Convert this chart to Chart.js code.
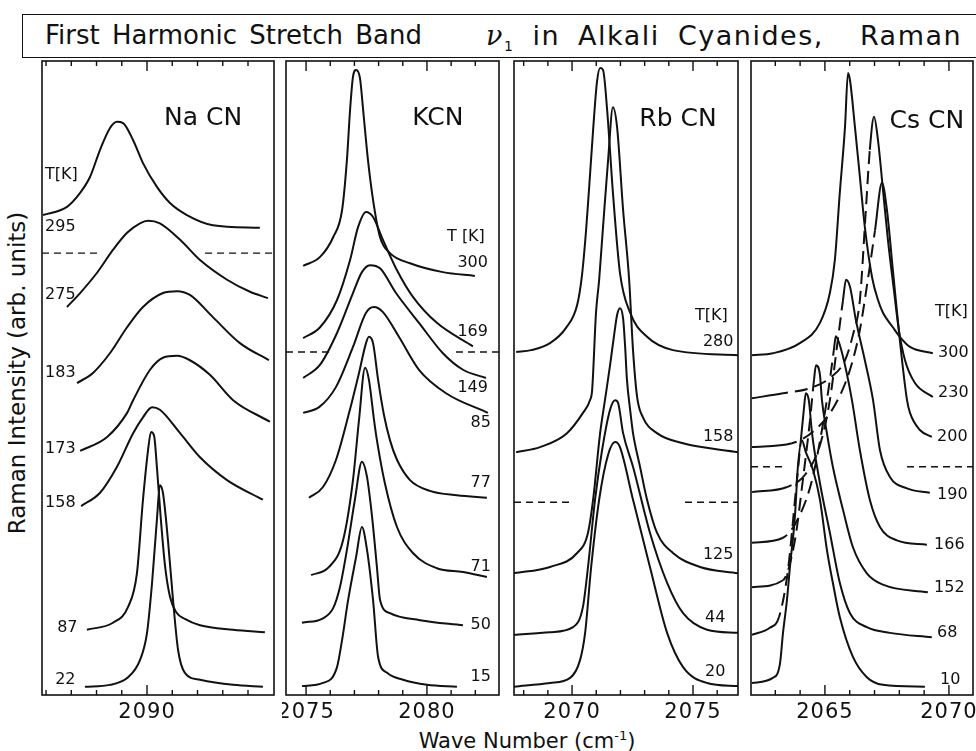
<!DOCTYPE html>
<html lang="en">
<head>
<meta charset="UTF-8">
<title>First Harmonic Stretch Band in Alkali Cyanides, Raman</title>
<script src="https://cdn.jsdelivr.net/npm/chart.js"></script>
<style>
  body { margin: 0; background: #fff; width: 976px; height: 751px; overflow: hidden; position: relative;
         font-family: "DejaVu Sans", sans-serif; color: #111; }
  .title { position: absolute; left: 22px; top: 14px; width: 970px; height: 44px; border: 1.5px solid #111;
           border-right: none; box-sizing: border-box; }
  .title span { position: absolute; top: 0; line-height: 41px; font-size: 26px; white-space: nowrap; }
  .title i { font-family: "DejaVu Serif", serif; }
  .title sub { font-size: 14px; font-style: normal; }
  .ylab { position: absolute; left: 17px; top: 373px; transform: translate(-50%, -50%) rotate(-90deg);
          font-size: 23px; white-space: nowrap; }
  .xlab { position: absolute; left: 527px; top: 740px; transform: translate(-50%, -50%);
          font-size: 21px; white-space: nowrap; }
  .xlab sup { font-size: 13px; }
  canvas { position: absolute; }
</style>
</head>
<body>
<div class="title">
  <span style="left: 22px; word-spacing: 4px;">First Harmonic Stretch Band</span>
  <span style="left: 463px; font-size: 27px; letter-spacing: 1.5px; word-spacing: 8px;"><i>ν</i><sub>1</sub> in Alkali Cyanides,&nbsp; Raman</span>
</div>
<div class="ylab">Raman Intensity (arb. units)</div>
<div class="xlab">Wave Number (cm<sup>-1</sup>)</div>
<canvas id="na"></canvas>
<canvas id="k"></canvas>
<canvas id="rb"></canvas>
<canvas id="cs"></canvas>

<script>
// ---- data: [wave number (cm-1), Raman intensity (arb. units)] ----

// NaCN
const na295 = [[2085.88,75.7],[2086.83,77.0],[2087.35,79.2],[2087.74,81.7],[2088.14,86.0],[2088.53,89.4],[2088.81,90.4],[2089.05,90.2],[2089.45,87.5],[2089.84,83.9],[2090.40,80.1],[2090.91,77.6],[2091.58,75.7],[2092.61,74.1],[2094.47,73.7]];
const na275 = [[2086.83,61.2],[2087.35,63.4],[2088.02,66.6],[2088.65,70.2],[2089.21,72.9],[2089.72,74.4],[2090.04,74.8],[2090.51,74.4],[2091.31,71.8],[2092.10,68.6],[2093.17,65.5],[2094.08,63.6],[2094.79,62.6]];
const na183 = [[2087.23,49.2],[2087.86,50.8],[2088.53,53.9],[2089.21,58.0],[2089.84,61.2],[2090.63,63.4],[2091.19,63.7],[2091.70,63.1],[2092.61,59.6],[2093.68,55.5],[2094.83,52.8]];
const na173 = [[2087.35,38.5],[2088.42,40.7],[2089.21,44.5],[2089.45,46.5],[2090.12,51.3],[2090.63,53.2],[2091.19,53.5],[2091.70,52.8],[2092.49,50.5],[2093.41,46.5],[2094.87,43.1]];
const na158 = [[2087.39,29.8],[2088.14,31.9],[2088.81,36.0],[2089.45,41.3],[2089.84,43.8],[2090.20,45.4],[2090.51,45.0],[2091.31,41.3],[2092.10,37.5],[2093.17,33.9],[2094.59,30.8]];
const na87 = [[2087.62,10.3],[2088.65,11.4],[2089.25,13.9],[2089.60,19.2],[2089.84,30.8],[2090.04,38.6],[2090.16,41.5],[2090.28,40.9],[2090.40,35.5],[2090.55,27.6],[2090.71,20.5],[2090.91,15.5],[2091.15,13.1],[2091.50,12.0],[2092.10,11.0],[2093.41,10.3],[2094.67,9.9]];
const na22 = [[2087.54,1.3],[2088.53,1.6],[2089.25,2.8],[2089.72,5.5],[2090.00,9.8],[2090.20,17.7],[2090.40,28.1],[2090.51,33.1],[2090.63,31.9],[2090.83,24.4],[2091.03,15.0],[2091.23,7.1],[2091.50,3.5],[2092.10,2.4],[2093.41,1.6],[2094.59,1.3]];
const naDash = [[2085.84,69.7],[2088.14,69.7],[2090,null],[2092.30,69.7],[2095.03,69.7]];
const naTicks = [2086,2087,2088,2089,2090,2091,2092,2093,2094];
const naMajor = [2090];
const naNotes = ['T[K]','295','275','183','173','158','87','22'];
const naNoteAt = [[2085.96,82.0],[2085.96,73.8],[2085.96,63.1],[2085.96,50.8],[2085.96,38.8],[2085.96,30.3],[2086.44,10.6],[2086.36,2.4]];

// KCN
const k300 = [[2074.88,67.7],[2075.58,69.1],[2076.12,72.2],[2076.49,76.5],[2076.69,84.4],[2076.82,92.3],[2076.94,97.5],[2077.07,98.6],[2077.23,97.3],[2077.36,92.3],[2077.56,84.4],[2077.77,78.1],[2078.06,72.2],[2078.47,69.7],[2079.30,68.1],[2080.66,66.7],[2081.98,66.1]];
const k169 = [[2074.88,56.3],[2075.58,58.0],[2076.28,62.3],[2076.82,68.6],[2077.15,73.8],[2077.48,76.2],[2077.77,75.4],[2078.18,71.8],[2078.76,67.0],[2079.42,62.8],[2080.41,58.7],[2081.90,55.0]];
const k149 = [[2074.88,50.0],[2075.58,52.1],[2076.28,57.1],[2076.94,63.4],[2077.31,66.7],[2077.64,67.8],[2078.06,67.3],[2078.72,63.4],[2079.67,58.7],[2080.66,53.9],[2081.49,51.3],[2082.44,50.0]];
const k85 = [[2074.88,44.5],[2075.54,45.4],[2076.24,48.6],[2076.94,54.9],[2077.48,60.3],[2077.81,61.2],[2078.18,60.4],[2078.84,56.5],[2079.67,51.3],[2080.79,47.6],[2082.52,44.5]];
const k77 = [[2075.12,31.1],[2075.70,32.8],[2076.24,37.1],[2076.78,44.5],[2077.19,50.8],[2077.48,55.5],[2077.60,56.5],[2077.77,55.5],[2077.98,49.7],[2078.22,44.2],[2078.47,40.2],[2078.76,37.1],[2079.30,33.9],[2080.12,32.2],[2081.24,31.5],[2082.48,31.1]];
const k71 = [[2075.21,18.9],[2075.95,20.2],[2076.53,24.4],[2076.94,33.9],[2077.19,43.4],[2077.44,51.6],[2077.60,49.7],[2077.81,43.4],[2077.93,40.2],[2078.26,33.4],[2078.76,26.5],[2079.42,22.4],[2080.41,20.0],[2081.49,19.4],[2082.48,18.6]];
const k50 = [[2074.83,11.4],[2075.70,12.1],[2076.12,13.7],[2076.40,17.0],[2076.69,22.9],[2077.02,30.8],[2077.31,36.8],[2077.52,34.4],[2077.73,28.1],[2077.93,20.2],[2078.06,15.0],[2078.47,12.9],[2079.71,11.8],[2081.49,11.0]];
const k15 = [[2074.83,1.4],[2075.70,1.9],[2076.28,4.4],[2076.49,8.7],[2076.74,15.0],[2077.07,21.8],[2077.31,26.5],[2077.52,22.9],[2077.77,15.0],[2077.98,6.0],[2078.35,3.5],[2079.01,2.4],[2080.00,1.6],[2081.24,1.3]];
const kDash = [[2074.17,54.1],[2076.12,54.1],[2078,null],[2081.20,54.1],[2082.98,54.1]];
const kTicks = [2075,2076,2077,2078,2079,2080,2081,2082];
const kMajor = [2075,2080];
const kNotes = ['T [K]','300','169','149','85','77','71','50','15'];
const kNoteAt = [[2080.83,72.2],[2081.26,68.1],[2081.26,57.3],[2081.26,48.4],[2081.80,42.9],[2081.80,33.4],[2081.80,20.2],[2081.80,11.0],[2081.80,2.8]];

// RbCN
const rb280 = [[2067.69,54.1],[2068.31,54.4],[2069.09,55.5],[2069.75,57.9],[2070.21,61.5],[2070.41,66.2],[2070.58,73.3],[2070.70,79.7],[2070.87,89.1],[2071.03,96.7],[2071.16,98.9],[2071.28,98.6],[2071.45,92.3],[2071.69,79.2],[2071.98,66.6],[2072.40,60.3],[2073.10,56.5],[2074.17,54.4],[2076.86,53.6]];
const rb158 = [[2067.69,38.3],[2068.68,39.1],[2069.79,41.3],[2070.45,44.5],[2070.74,46.5],[2070.83,48.1],[2070.99,60.3],[2071.12,65.5],[2071.28,73.8],[2071.49,84.4],[2071.69,92.7],[2071.86,89.6],[2072.11,76.5],[2072.36,65.5],[2072.52,54.4],[2072.69,47.0],[2072.93,43.8],[2073.51,41.3],[2074.59,39.7],[2076.86,38.3]];
const rb125 = [[2067.60,19.2],[2069.09,20.2],[2070.21,22.4],[2070.66,25.6],[2070.87,30.8],[2071.16,41.3],[2071.36,46.5],[2071.57,52.0],[2071.74,56.8],[2071.86,59.9],[2071.98,61.0],[2072.11,59.4],[2072.19,55.2],[2072.27,49.7],[2072.40,45.0],[2072.52,41.3],[2072.81,36.0],[2073.10,30.8],[2073.51,25.6],[2074.17,22.4],[2075.29,20.2],[2076.86,19.2]];
const rb44 = [[2067.60,9.5],[2069.09,9.9],[2070.04,10.7],[2070.45,13.9],[2070.66,20.2],[2070.95,30.8],[2071.24,38.6],[2071.57,45.0],[2071.78,46.5],[2071.90,46.1],[2072.11,41.3],[2072.52,36.0],[2073.22,25.6],[2073.93,17.7],[2074.59,12.9],[2075.58,10.3],[2076.86,9.8]];
const rb20 = [[2067.60,1.3],[2069.09,1.9],[2069.92,2.7],[2070.33,5.5],[2070.54,9.8],[2070.79,20.2],[2071.12,30.8],[2071.49,37.9],[2071.78,39.9],[2071.98,39.1],[2072.52,30.8],[2073.22,20.2],[2073.93,9.8],[2074.59,4.4],[2075.58,1.9],[2076.86,1.4]];
const rbDash = [[2067.60,30.4],[2070.04,30.4],[2072,null],[2074.67,30.4],[2076.86,30.4]];
const rbTicks = [2068,2069,2070,2071,2072,2073,2074,2075,2076];
const rbMajor = [2070,2075];
const rbNotes = ['T[K]','280','158','125','44','20'];
const rbNoteAt = [[2075.08,59.8],[2075.41,55.7],[2075.41,40.7],[2075.41,22.1],[2075.50,12.1],[2075.50,3.6]];

// CsCN
const cs300 = [[2062.06,53.6],[2062.90,53.9],[2063.99,55.5],[2064.80,58.7],[2065.20,63.4],[2065.40,68.6],[2065.60,79.2],[2065.81,89.6],[2065.93,98.1],[2066.01,97.0],[2066.21,89.6],[2066.41,81.7],[2066.61,73.8],[2066.90,65.9],[2067.14,62.3],[2067.34,60.3],[2067.74,58.0],[2068.02,56.5],[2068.43,54.9],[2069.35,53.9]];
const cs230 = [[2062.06,46.8],[2063.31,47.6],[2064.40,48.4],[2065.20,50.0],[2065.81,52.8],[2066.13,56.8],[2066.41,62.3],[2066.65,76.5],[2066.81,86.0],[2066.98,91.2],[2067.14,87.5],[2067.34,79.7],[2067.54,71.8],[2067.78,63.9],[2067.98,57.6],[2068.23,52.8],[2068.63,49.2],[2069.35,47.0]];
const cs200 = [[2062.06,39.1],[2063.67,39.7],[2064.60,41.8],[2065.40,45.7],[2066.01,51.3],[2066.41,57.6],[2066.73,65.5],[2067.02,73.3],[2067.30,80.8],[2067.50,76.5],[2067.74,67.0],[2068.02,56.0],[2068.31,46.5],[2068.43,44.5],[2068.83,41.8],[2069.31,40.7]];
const cs190 = [[2062.06,32.0],[2063.47,32.8],[2064.19,34.7],[2064.80,39.4],[2065.20,46.5],[2065.52,56.0],[2065.73,62.3],[2065.85,65.5],[2066.01,64.4],[2066.25,59.1],[2066.61,52.8],[2066.94,46.5],[2067.22,38.6],[2067.62,34.4],[2068.31,32.6],[2069.23,31.9]];
const cs166 = [[2062.06,24.0],[2063.31,24.8],[2063.99,28.4],[2064.48,33.9],[2064.88,41.8],[2065.20,49.7],[2065.36,54.4],[2065.44,56.6],[2065.60,55.2],[2065.85,51.3],[2066.09,46.5],[2066.41,38.6],[2066.81,30.8],[2067.22,26.5],[2067.90,24.4],[2069.11,23.7]];
const cs152 = [[2062.06,17.0],[2063.31,18.1],[2063.79,24.4],[2064.11,33.9],[2064.40,43.4],[2064.56,49.7],[2064.64,52.0],[2064.80,50.5],[2064.88,46.5],[2065.08,41.3],[2065.32,36.0],[2065.73,29.2],[2066.13,23.3],[2066.69,19.2],[2067.34,17.4],[2069.15,16.2]];
const cs68 = [[2062.06,9.5],[2062.78,10.6],[2063.15,12.3],[2063.51,19.7],[2063.83,32.3],[2064.03,40.2],[2064.15,45.0],[2064.23,47.6],[2064.35,46.5],[2064.48,41.3],[2064.80,33.4],[2065.20,25.6],[2065.60,17.7],[2066.01,12.9],[2066.69,10.7],[2067.62,9.8],[2069.31,9.1]];
const cs10 = [[2062.06,1.9],[2062.90,2.7],[2063.19,5.0],[2063.31,9.8],[2063.47,15.0],[2063.59,20.2],[2063.79,28.1],[2063.91,36.0],[2064.07,40.2],[2064.23,38.3],[2064.52,35.5],[2064.80,30.8],[2065.08,22.9],[2065.32,17.7],[2065.60,12.3],[2066.13,6.0],[2066.69,2.8],[2067.34,1.6],[2069.03,1.3]];
const csDash = [[2062.02,36.0],[2063.47,36.0],[2066,null],[2068.31,36.0],[2070.97,36.0]];
const csTicks = [2063,2064,2065,2066,2067,2068,2069,2070];
const csMajor = [2065,2070];
const csNotes = ['T[K]','300','230','200','190','166','152','68','10'];
const csNoteAt = [[2069.44,60.4],[2069.56,53.9],[2069.56,47.6],[2069.52,40.7],[2069.52,31.5],[2069.40,23.7],[2069.40,16.9],[2069.52,9.8],[2069.64,2.4]];
// wave-number stretch of each CsCN curve that is drawn broken where it passes behind others
const csBroken = [null, [2063.31,2066.81], [2063.67,2067.02], [2063.47,2065.73], [2063.31,2065.36], [2063.31,2064.56], [2063.15,2064.03], null];

const compounds = ['Na CN', 'KCN', 'Rb CN', 'Cs CN'];
const compoundAt = [[2092.22,91.0],[2080.45,90.9],[2074.38,90.7],[2069.11,90.5]];

// ---- drawing ----
const INK = '#111';
const TOP = 61, BOTTOM = 695;
const PAD = { left: 4, right: 4, top: 4, bottom: 44 };

function frame(ticks, major, notes, noteAt, name, nameAt) {
  return {
    id: 'frame',
    afterDatasetsDraw(chart) {
      const { ctx, chartArea: a } = chart;
      const sx = chart.scales.x, sy = chart.scales.y;
      ctx.save();
      ctx.strokeStyle = INK;
      ctx.lineWidth = 1.6;
      ctx.strokeRect(a.left, a.top, a.right - a.left, a.bottom - a.top);
      ctx.lineWidth = 1.4;
      ctx.beginPath();
      ticks.forEach(v => {
        const px = sx.getPixelForValue(v);
        const len = major.includes(v) ? 10 : 5;
        ctx.moveTo(px, a.bottom); ctx.lineTo(px, a.bottom - len);
        ctx.moveTo(px, a.top); ctx.lineTo(px, a.top + len);
      });
      ctx.stroke();

      ctx.fillStyle = INK;
      ctx.textBaseline = 'middle';
      ctx.textAlign = 'center';
      ctx.font = '21px "DejaVu Sans"';
      ctx.letterSpacing = '1px';
      major.forEach(v => ctx.fillText(String(v), sx.getPixelForValue(v), a.bottom + 18));
      ctx.letterSpacing = '0px';

      ctx.font = '25px "DejaVu Sans"';
      ctx.fillText(name, sx.getPixelForValue(nameAt[0]), sy.getPixelForValue(nameAt[1]));

      ctx.textAlign = 'left';
      ctx.font = '16px "DejaVu Sans"';
      notes.forEach((t, i) => ctx.fillText(t, sx.getPixelForValue(noteAt[i][0]), sy.getPixelForValue(noteAt[i][1])));
      ctx.restore();
    }
  };
}

function panel(id, left, right, xmin, xmax, curves, dash, ticks, major, notes, noteAt, idx, broken) {
  const cv = document.getElementById(id);
  cv.width = right - left + PAD.left + PAD.right;
  cv.height = BOTTOM - TOP + PAD.top + PAD.bottom;
  cv.style.left = (left - PAD.left) + 'px';
  cv.style.top = (TOP - PAD.top) + 'px';

  const sets = curves.map((c, i) => {
    const span = broken ? broken[i] : null;
    return {
      data: c, borderColor: INK, borderWidth: 2, pointRadius: 0,
      cubicInterpolationMode: 'monotone', fill: false,
      segment: {
        borderDash: s => (span && c[s.p0DataIndex][0] >= span[0] && c[s.p1DataIndex][0] <= span[1]) ? [13, 7] : undefined,
        borderDashOffset: s => (span ? 8 : 0)
      }
    };
  });
  sets.push({ data: dash, borderColor: INK, borderWidth: 1.3, borderDash: [7, 5], pointRadius: 0, fill: false });

  new Chart(cv, {
    type: 'line',
    data: { datasets: sets },
    options: {
      responsive: false,
      animation: false,
      devicePixelRatio: 1,
      layout: { padding: PAD },
      scales: {
        x: { type: 'linear', min: xmin, max: xmax, display: false },
        y: { min: 0, max: 100, display: false }
      },
      plugins: { legend: { display: false }, tooltip: { enabled: false } }
    },
    plugins: [frame(ticks, major, notes, noteAt, compounds[idx], compoundAt[idx])]
  });
}

panel('na', 42, 274, 2085.84, 2095.03, [na295, na275, na183, na173, na158, na87, na22], naDash, naTicks, naMajor, naNotes, naNoteAt, 0);
panel('k', 286, 499, 2074.17, 2082.98, [k300, k169, k149, k85, k77, k71, k50, k15], kDash, kTicks, kMajor, kNotes, kNoteAt, 1);
panel('rb', 514, 738, 2067.60, 2076.86, [rb280, rb158, rb125, rb44, rb20], rbDash, rbTicks, rbMajor, rbNotes, rbNoteAt, 2);
panel('cs', 751, 973, 2062.02, 2070.97, [cs300, cs230, cs200, cs190, cs166, cs152, cs68, cs10], csDash, csTicks, csMajor, csNotes, csNoteAt, 3, csBroken);
</script>
</body>
</html>
